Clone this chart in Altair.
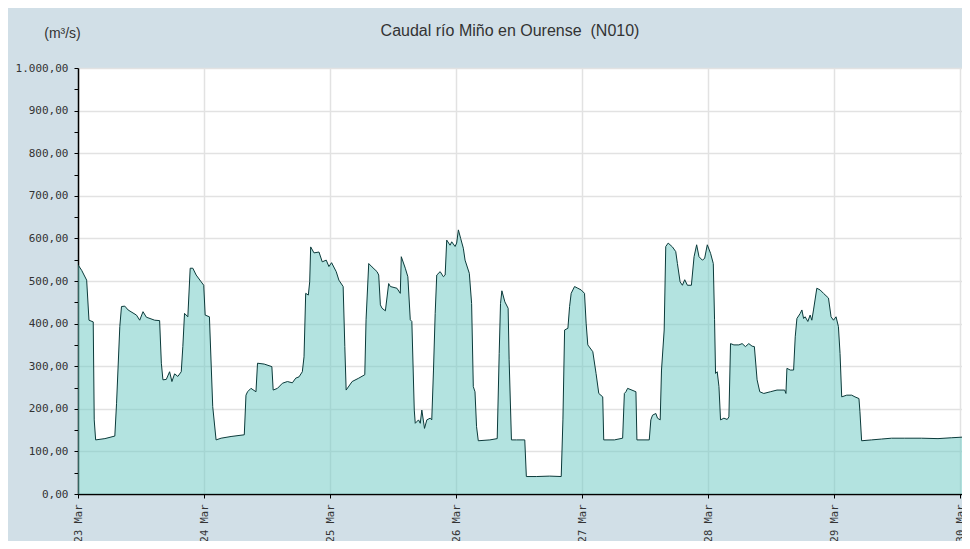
import altair as alt
import pandas as pd

START = "2023-03-23 00:00"
END_HOURS = 168.3
TITLE = "Caudal río Miño en Ourense \u00a0(N010)"
UNIT = "(m³/s)"

HOURS = [
    0.00, 0.70, 1.65, 2.09, 2.90, 3.09, 3.36, 5.12, 7.01, 7.34, 7.96, 8.28, 8.91, 9.54,
    11.13, 11.75, 12.38, 13.02, 14.60, 15.54, 15.87, 16.17, 16.81, 17.44, 17.88, 18.39,
    19.01, 19.66, 19.96, 20.28, 20.91, 21.36, 21.86, 22.50, 23.45, 23.94, 24.21, 25.02,
    25.65, 26.29, 27.24, 29.14, 31.66, 31.98, 32.28, 32.93, 33.88, 34.18, 35.45, 36.91,
    37.16, 37.97, 38.92, 39.87, 40.81, 41.46, 42.08, 42.71, 43.03, 43.35, 43.85, 44.11,
    44.30, 44.93, 45.88, 46.50, 47.26, 47.77, 48.28, 49.16, 49.67, 50.48, 50.80, 51.05,
    52.19, 53.46, 54.60, 54.84, 55.35, 55.98, 56.93, 57.25, 57.57, 57.88, 58.52, 59.15,
    59.47, 60.72, 61.36, 61.55, 62.31, 62.80, 63.26, 63.56, 64.02, 64.21, 64.83, 65.16,
    65.46, 65.97, 66.41, 67.05, 67.35, 67.68, 68.00, 68.30, 68.95, 69.57, 69.90, 70.20,
    70.84, 71.15, 71.79, 72.09, 72.42, 72.85, 73.36, 73.69, 74.50, 74.94, 75.26, 75.58,
    75.88, 76.21, 78.42, 79.81, 80.19, 80.44, 80.70, 81.27, 81.89, 82.08, 82.52, 83.47,
    85.06, 85.36, 87.26, 89.80, 92.00, 92.32, 92.64, 93.27, 93.59, 93.89, 94.54, 95.16,
    95.79, 96.43, 96.74, 97.06, 98.01, 98.63, 99.15, 99.90, 100.09, 102.12, 103.69,
    104.02, 104.32, 104.64, 106.22, 106.41, 108.76, 109.06, 109.38, 110.01, 110.33,
    110.84, 111.09, 111.60, 111.90, 112.36, 113.17, 113.80, 114.12, 114.63, 115.07,
    115.51, 116.02, 116.78, 117.29, 117.78, 118.23, 118.86, 119.30, 119.81, 120.43,
    120.95, 121.19, 121.38, 121.70, 122.03, 122.33, 122.97, 123.60, 123.92, 124.23,
    124.87, 125.82, 126.44, 127.07, 127.71, 128.34, 128.77, 129.29, 129.80, 130.56,
    131.81, 133.08, 134.54, 134.78, 134.97, 135.60, 136.24, 136.55, 136.87, 137.50,
    137.82, 138.14, 138.44, 138.95, 139.39, 139.71, 140.03, 140.66, 141.29, 141.93,
    142.88, 143.37, 143.83, 144.32, 144.77, 145.08, 145.40, 146.35, 147.30, 147.92,
    148.68, 148.87, 149.19, 151.09, 152.98, 154.88, 157.40, 160.57, 163.73, 166.26,
    169.10,
]

FLOW = [
    538, 525, 502, 408, 404, 174, 127, 130, 136, 213, 393, 440, 441, 432,
    420, 408, 428, 415, 408, 407, 307, 268, 269, 287, 264, 282,
    276, 287, 346, 424, 416, 530, 530, 514, 498, 490, 420, 416,
    205, 127, 131, 135, 139, 232, 240, 248, 240, 307, 305, 299,
    244, 248, 260, 264, 261, 272, 275, 287, 322, 471, 467, 498,
    580, 566, 568, 545, 549, 534, 543, 522, 502, 487, 346, 244,
    264, 272, 280, 409, 541, 533, 522, 514, 444, 436, 430, 494,
    487, 483, 471, 557, 530, 510, 409, 405, 197, 166, 174, 166,
    197, 154, 174, 178, 174, 291, 424, 514, 522, 510, 514, 596,
    584, 592, 581, 589, 620, 600, 577, 549, 518, 447, 252, 240,
    158, 125, 127, 130, 330, 447, 477, 451, 436, 315, 127, 127,
    127, 41, 41, 42, 41, 174, 385, 389, 440, 471, 487, 483,
    479, 471, 401, 350, 334, 283, 236, 228, 127, 127, 131,
    236, 240, 248, 240, 127, 127, 174, 185, 189, 178,
    174, 291, 385, 581, 589, 580, 569, 541, 498, 490,
    503, 490, 490, 557, 585, 557, 549, 553, 585, 565,
    541, 409, 283, 287, 252, 174, 178, 175, 181, 353,
    350, 350, 353, 346, 353, 347, 346, 268, 240, 236,
    240, 244, 244, 236, 295, 291, 291, 369, 412, 424,
    432, 412, 416, 405, 420, 408, 432, 483, 479, 471,
    460, 416, 408, 416, 393, 330, 228, 232, 232, 228,
    224, 193, 125, 127, 129, 131, 131, 131, 130, 132,
    134,
]

Y_TICKS = list(range(0, 1001, 50))

start = pd.Timestamp(START)
end = start + pd.Timedelta(hours=END_HOURS)
df = pd.DataFrame({
    "t": start + pd.to_timedelta(HOURS, unit="h"),
    "q": FLOW,
})

x_dom = [
    alt.DateTime(year=start.year, month=start.month, date=start.day, hours=start.hour, minutes=start.minute),
    alt.DateTime(year=end.year, month=end.month, date=end.day, hours=end.hour, minutes=end.minute),
]

euro = "replace(replace(replace(format(datum.value, ',.2f'), ',', ';'), '.', ','), ';', '.')"

chart = alt.Chart(df).mark_area(
    color="#67c7c1",
    fillOpacity=0.5,
    interpolate="linear",
    clip=True,
    line={"color": "#0b3a3a", "strokeWidth": 1, "clip": True},
).encode(
    x=alt.X(
        "t:T",
        scale=alt.Scale(domain=x_dom),
        axis=alt.Axis(
            title=None,
            format="%d %b",
            tickCount=alt.TimeIntervalStep(interval="day", step=1),
            labelAngle=270,
            labelAlign="right",
            labelBaseline="middle",
            labelFlush=False,
            labelOverlap=False,
            labelFont="DejaVu Sans Mono",
            labelFontSize=10.5,
            labelColor="#333333",
            labelPadding=6,
            tickSize=4,
            tickColor="#000000",
            domainColor="#000000",
            domainWidth=1.5,
            gridColor="#e2e2e2",
            gridWidth=1.5,
        ),
    ),
    y=alt.Y(
        "q:Q",
        scale=alt.Scale(domain=[0, 1000], nice=False),
        axis=alt.Axis(
            title=UNIT,
            titleAngle=0,
            titleX=-16,
            titleY=-35,
            titleAlign="center",
            titleBaseline="middle",
            titleFont="Liberation Sans",
            titleFontSize=14,
            titleFontWeight="normal",
            titleColor="#333333",
            values=Y_TICKS,
            labelExpr=f"datum.value % 100 === 0 ? {euro} : ''",
            labelFont="DejaVu Sans Mono",
            labelFontSize=11,
            labelColor="#333333",
            labelPadding=6,
            tickSize=4,
            tickColor="#000000",
            domainColor="#000000",
            domainWidth=1.5,
            gridColor="#e2e2e2",
            gridWidth=1.5,
            gridOpacity={"condition": {"test": "datum.value % 100 === 0", "value": 1}, "value": 0},
        ),
    ),
).properties(
    width=884,
    height=426,
    autosize=alt.AutoSizeParams(type="none"),
    padding={"left": 70, "top": 60, "right": 0, "bottom": 47},
    background="#d1dfe7",
    title=alt.Title(
        TITLE,
        font="Liberation Sans",
        fontSize=16,
        fontWeight="normal",
        color="#333333",
        anchor="middle",
        dx=-10,
        dy=17,
    ),
).configure_view(
    fill="white",
    strokeWidth=0,
)

chart.save("out.html", embed_options={"renderer": "svg", "actions": False})
